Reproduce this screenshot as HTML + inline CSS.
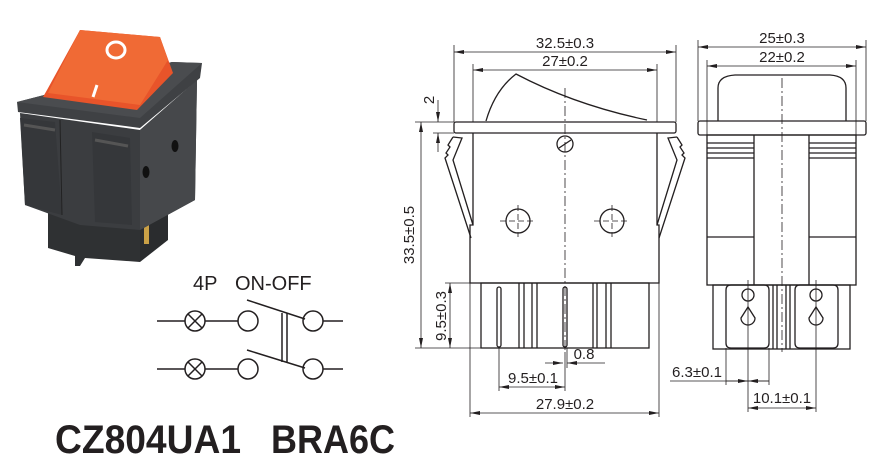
<!DOCTYPE html>
<html><head><meta charset="utf-8"><style>
html,body{margin:0;padding:0;background:#fff;}
svg{display:block;}
text{font-family:"Liberation Sans",sans-serif;fill:#231f20;}
</style></head><body>
<svg width="892" height="462" viewBox="0 0 892 462" xmlns="http://www.w3.org/2000/svg">
<defs>
<marker id="a" viewBox="0 0 10 4" refX="10" refY="2" markerWidth="10" markerHeight="4" orient="auto-start-reverse" markerUnits="userSpaceOnUse"><path d="M0,0 L10,2 L0,4z" fill="#231f20"/></marker>
</defs>
<!-- Photo -->
<g>
<polygon points="48,212 140,228 140,262 85,258 80,266 75,266 75,256 48,248" fill="#2f3133"/>
<polygon points="140,228 168,205 168,240 140,262" fill="#2a2c2e"/>
<rect x="144" y="222" width="5" height="22" fill="#c9a046"/>
<polygon points="20,113 140,130 197,80 195,200 140,230 80,225 25,205" fill="#3b3d40"/>
<polygon points="140,130 197,80 195,200 140,230" fill="#46484b"/>
<polygon points="20,118 55,122 62,215 25,205" fill="#35373a"/>
<polygon points="92,132 130,138 132,225 95,222" fill="#35373a"/>
<line x1="60" y1="120" x2="62" y2="215" stroke="#222" stroke-width="1"/>
<line x1="24" y1="125" x2="55" y2="130" stroke="#555" stroke-width="3"/>
<line x1="95" y1="140" x2="128" y2="146" stroke="#555" stroke-width="3"/>
<ellipse cx="175" cy="146" rx="3.5" ry="6" fill="#111"/>
<ellipse cx="146" cy="172" rx="3.5" ry="6" fill="#111"/>
<polygon points="17,102 172,62 202,63 200,78 140,128 18,112" fill="#3f4144"/>
<polygon points="17,102 172,62 202,63 140,118" fill="#4a4c4f"/>
<polygon points="80,30 160,37 173,73 137,110 43,97 47,90" fill="#e8542a"/>
<polygon points="80,30 160,37 168,60 140,105 48,93" fill="#f06a35"/>
<ellipse cx="116" cy="50" rx="9" ry="8" fill="none" stroke="#fff" stroke-width="3"/>
<line x1="97" y1="85" x2="93" y2="97" stroke="#fff" stroke-width="3"/>
</g>
<!-- Schematic -->
<text x="193" y="290" font-size="20">4P</text>
<text x="235" y="290" font-size="20">ON-OFF</text>
<g stroke="#231f20" stroke-width="1.5" fill="none">
<line x1="157" y1="321" x2="185" y2="321"/><circle cx="195" cy="321" r="10"/>
<line x1="188" y1="314" x2="202" y2="328"/><line x1="202" y1="314" x2="188" y2="328"/>
<line x1="205" y1="321" x2="238" y2="321"/><circle cx="248" cy="321" r="10"/>
<line x1="247" y1="300" x2="305" y2="319"/><circle cx="313" cy="321" r="10"/><line x1="323" y1="321" x2="343" y2="321"/>
<line x1="157" y1="369" x2="185" y2="369"/><circle cx="195" cy="369" r="10"/>
<line x1="188" y1="362" x2="202" y2="376"/><line x1="202" y1="362" x2="188" y2="376"/>
<line x1="205" y1="369" x2="238" y2="369"/><circle cx="248" cy="369" r="10"/>
<line x1="247" y1="350" x2="305" y2="368"/><circle cx="313" cy="369" r="10"/><line x1="323" y1="369" x2="343" y2="369"/>
<line x1="282" y1="313" x2="282" y2="362"/><line x1="287" y1="313" x2="287" y2="362"/>
</g>
<text x="55" y="453" font-size="40" font-weight="bold" textLength="186" lengthAdjust="spacingAndGlyphs">CZ804UA1</text>
<text x="271" y="453" font-size="40" font-weight="bold" textLength="124" lengthAdjust="spacingAndGlyphs">BRA6C</text>

<!-- Middle view -->
<g stroke="#231f20" stroke-width="1.3" fill="none">
<rect x="454" y="122" width="222" height="11" rx="2"/>
<path d="M486,121 Q495,90 516,74 Q575,105 647,120"/>
<polyline points="473,133 473,225 470,225 470,283 659,283 659,225 657,225 657,133"/>
<polyline points="453,137 462,138 453,160 473,225"/>
<polyline points="453,137 448,145 450,147 446,153 448,155 445,158 471,238"/>
<polyline points="677,137 668,138 677,160 657,225"/>
<polyline points="677,137 682,145 680,147 684,153 682,155 685,158 659,238"/>
<circle cx="565" cy="144" r="8"/><line x1="559" y1="148" x2="571" y2="140"/>
<circle cx="518" cy="221" r="12"/><circle cx="612" cy="221" r="12"/>
<rect x="481" y="283" width="168" height="65"/>
<rect x="497" y="287" width="4" height="60" rx="2"/><rect x="563" y="287" width="4" height="60" rx="2"/>
<line x1="519" y1="283" x2="519" y2="348"/><line x1="524" y1="283" x2="524" y2="348"/>
<line x1="532" y1="283" x2="532" y2="348"/><line x1="537" y1="283" x2="537" y2="348"/>
<line x1="593" y1="283" x2="593" y2="348"/><line x1="597" y1="283" x2="597" y2="348"/>
<line x1="606" y1="283" x2="606" y2="348"/><line x1="611" y1="283" x2="611" y2="348"/>
</g>
<g stroke="#231f20" stroke-width="0.8" fill="none">
<line x1="565" y1="88" x2="565" y2="352" stroke-dasharray="10,3,2,3"/>
<line x1="500" y1="221" x2="536" y2="221" stroke-dasharray="6,3"/><line x1="518" y1="205" x2="518" y2="237" stroke-dasharray="6,3"/>
<line x1="594" y1="221" x2="630" y2="221" stroke-dasharray="6,3"/><line x1="612" y1="205" x2="612" y2="237" stroke-dasharray="6,3"/>
<line x1="454" y1="45" x2="454" y2="122"/><line x1="676" y1="45" x2="676" y2="122"/>
<line x1="473" y1="64" x2="473" y2="122"/><line x1="657" y1="64" x2="657" y2="122"/>
<line x1="454" y1="52" x2="676" y2="52" marker-start="url(#a)" marker-end="url(#a)"/>
<line x1="473" y1="70" x2="657" y2="70" marker-start="url(#a)" marker-end="url(#a)"/>
<line x1="415" y1="122" x2="454" y2="122"/><line x1="433" y1="133" x2="454" y2="133"/>
<line x1="415" y1="348" x2="481" y2="348"/><line x1="445" y1="283" x2="470" y2="283"/>
<line x1="421" y1="122" x2="421" y2="348" marker-start="url(#a)" marker-end="url(#a)"/>
<line x1="438" y1="100" x2="438" y2="122" marker-end="url(#a)"/>
<line x1="438" y1="152" x2="438" y2="133" marker-end="url(#a)"/>
<line x1="450" y1="283" x2="450" y2="348" marker-start="url(#a)" marker-end="url(#a)"/>
<line x1="499" y1="348" x2="499" y2="391"/><line x1="565" y1="352" x2="565" y2="391"/><line x1="567" y1="348" x2="567" y2="368"/>
<line x1="545" y1="363" x2="563" y2="363" marker-end="url(#a)"/>
<line x1="605" y1="363" x2="567" y2="363" marker-end="url(#a)"/>
<line x1="499" y1="387" x2="565" y2="387" marker-start="url(#a)" marker-end="url(#a)"/>
<line x1="470" y1="283" x2="470" y2="417"/><line x1="659" y1="283" x2="659" y2="417"/>
<line x1="470" y1="413" x2="659" y2="413" marker-start="url(#a)" marker-end="url(#a)"/>
</g>
<text x="565" y="48" font-size="15" text-anchor="middle">32.5±0.3</text>
<text x="565" y="66" font-size="15" text-anchor="middle">27±0.2</text>
<text x="584" y="359" font-size="15" text-anchor="middle">0.8</text>
<text x="533" y="383" font-size="15" text-anchor="middle">9.5±0.1</text>
<text x="565" y="409" font-size="15" text-anchor="middle">27.9±0.2</text>
<text transform="translate(414,235) rotate(-90)" font-size="15" text-anchor="middle">33.5±0.5</text>
<text transform="translate(446,316) rotate(-90)" font-size="15" text-anchor="middle">9.5±0.3</text>
<text transform="translate(434,100) rotate(-90)" font-size="15" text-anchor="middle">2</text>

<!-- Right view -->
<g stroke="#231f20" stroke-width="1.3" fill="none">
<path d="M718,121 L718,88 Q718,76 735,75 L830,75 Q846,76 846,88 L846,121"/>
<rect x="698" y="121" width="168" height="14" rx="2"/>
<rect x="707" y="135" width="149" height="150"/>
<line x1="754" y1="135" x2="754" y2="285"/><line x1="809" y1="135" x2="809" y2="285"/>
<line x1="707" y1="143" x2="754" y2="143"/><line x1="707" y1="148" x2="754" y2="148"/><line x1="707" y1="153" x2="754" y2="153"/><line x1="707" y1="158" x2="754" y2="158"/>
<line x1="809" y1="143" x2="856" y2="143"/><line x1="809" y1="148" x2="856" y2="148"/><line x1="809" y1="153" x2="856" y2="153"/><line x1="809" y1="158" x2="856" y2="158"/>
<line x1="707" y1="237" x2="754" y2="237"/><line x1="809" y1="237" x2="856" y2="237"/>
<rect x="713" y="285" width="137" height="64"/>
<path d="M726,290 Q726,285 731,285 L764,285 Q769,285 769,290 L769,343 Q769,348 764,348 L731,348 Q726,348 726,343 Z"/>
<path d="M795,290 Q795,285 800,285 L833,285 Q838,285 838,290 L838,343 Q838,348 833,348 L800,348 Q795,348 795,343 Z"/>
<line x1="773" y1="285" x2="773" y2="349"/><line x1="777" y1="285" x2="777" y2="349"/><line x1="786" y1="285" x2="786" y2="349"/><line x1="790" y1="285" x2="790" y2="349"/>
<circle cx="748" cy="295" r="6"/><path d="M748,307 L741,318 A7,7 0 1 0 755,318 Z"/>
<circle cx="816" cy="295" r="6"/><path d="M816,307 L809,318 A7,7 0 1 0 823,318 Z"/>
</g>
<g stroke="#231f20" stroke-width="0.8" fill="none">
<line x1="782" y1="78" x2="782" y2="352" stroke-dasharray="10,3,2,3"/>
<line x1="698" y1="40" x2="698" y2="121"/><line x1="866" y1="40" x2="866" y2="121"/>
<line x1="707" y1="60" x2="707" y2="135"/><line x1="856" y1="60" x2="856" y2="135"/>
<line x1="698" y1="47" x2="866" y2="47" marker-start="url(#a)" marker-end="url(#a)"/>
<line x1="707" y1="66" x2="856" y2="66" marker-start="url(#a)" marker-end="url(#a)"/>
<line x1="726" y1="348" x2="726" y2="385"/><line x1="769" y1="348" x2="769" y2="385"/>
<line x1="748" y1="280" x2="748" y2="412"/><line x1="816" y1="280" x2="816" y2="412"/>
<line x1="670" y1="381" x2="769" y2="381"/>
<line x1="726" y1="381" x2="748" y2="381" marker-end="url(#a)"/>
<line x1="769" y1="381" x2="748" y2="381" marker-end="url(#a)"/>
<line x1="748" y1="408" x2="816" y2="408" marker-start="url(#a)" marker-end="url(#a)"/>
</g>
<text x="782" y="43" font-size="15" text-anchor="middle">25±0.3</text>
<text x="782" y="62" font-size="15" text-anchor="middle">22±0.2</text>
<text x="697" y="377" font-size="15" text-anchor="middle">6.3±0.1</text>
<text x="782" y="403" font-size="15" text-anchor="middle">10.1±0.1</text>
</svg>
</body></html>
